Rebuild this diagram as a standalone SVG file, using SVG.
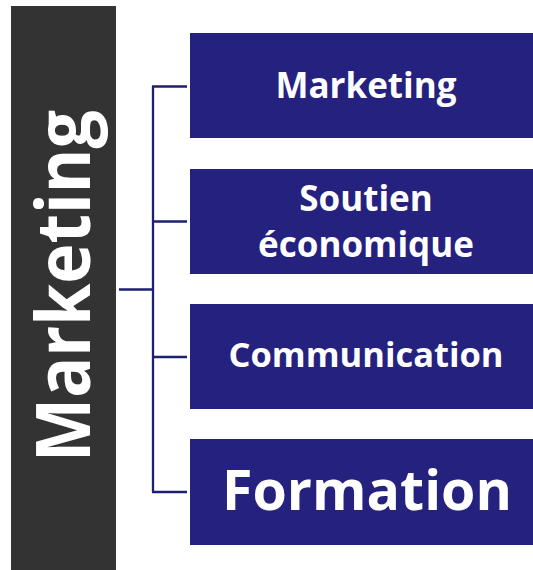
<svg xmlns="http://www.w3.org/2000/svg" width="533" height="570" viewBox="0 0 533 570">
<style>
.box{fill:#25227F}
.lbl{font-family:"Open Sans","DejaVu Sans",sans-serif;font-weight:700;fill:#FFFFFF;text-anchor:middle}
.conn{stroke:#1F1E70;stroke-width:2.3;fill:none}
</style>
<rect width="533" height="570" fill="#FFFFFF"/>
<g id="root">
<rect x="11" y="6" width="105" height="570" fill="#333333"/>
<text class="lbl" transform="translate(90,286) rotate(-90)" x="0" y="0" font-size="75" textLength="352" lengthAdjust="spacingAndGlyphs">Marketing</text>
</g>
<g id="connectors">
<line class="conn" x1="119" y1="289.5" x2="153" y2="289.5"/>
<line class="conn" x1="153" y1="86" x2="153" y2="492"/>
<line class="conn" x1="152" y1="86.5" x2="187" y2="86.5"/>
<line class="conn" x1="153" y1="221.5" x2="187" y2="221.5"/>
<line class="conn" x1="153" y1="357" x2="187" y2="357"/>
<line class="conn" x1="152" y1="492" x2="187" y2="492"/>
</g>
<g id="node-marketing">
<rect class="box" x="190" y="33" width="352" height="105"/>
<text class="lbl" x="366" y="98" font-size="35">Marketing</text>
</g>
<g id="node-soutien">
<rect class="box" x="190" y="169" width="352" height="105"/>
<text class="lbl" x="366" y="211" font-size="35">Soutien</text>
<text class="lbl" x="366" y="257" font-size="35">économique</text>
</g>
<g id="node-communication">
<rect class="box" x="190" y="304" width="352" height="105"/>
<text class="lbl" x="366" y="367" font-size="34.5">Communication</text>
</g>
<g id="node-formation">
<rect class="box" x="190" y="439" width="352" height="106"/>
<text class="lbl" x="367" y="510" font-size="55.5">Formation</text>
</g>
</svg>
